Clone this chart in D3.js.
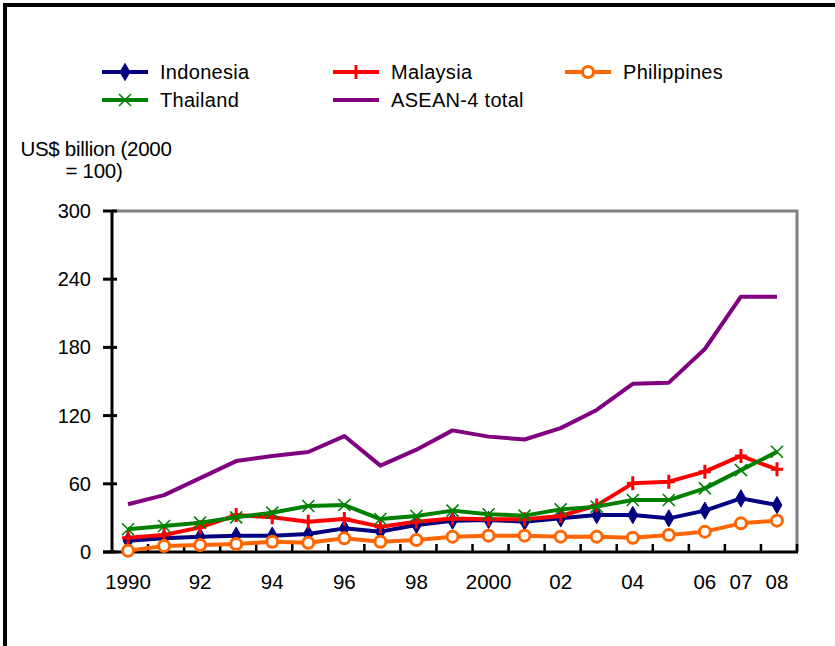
<!DOCTYPE html>
<html><head><meta charset="utf-8">
<script src="https://cdn.jsdelivr.net/npm/d3@7"></script>
<style>body{margin:0;background:#fff}svg{display:block}text{font-family:"Liberation Sans",Arial,sans-serif;fill:#000}</style>
</head><body><svg id="c" width="835" height="646"></svg>
<script>
const years = d3.range(1990, 2009);
const yearLabels = {1990:"1990",1992:"92",1994:"94",1996:"96",1998:"98",2000:"2000",2002:"02",2004:"04",2006:"06",2007:"07",2008:"08"};
const yTicks = [0, 60, 120, 180, 240, 300];
const indonesia   = [10, 12, 13.5, 14.4, 14.4, 15.8, 20.8, 17.9, 23.8, 27.5, 28.2, 26.7, 29.6, 32.5, 32.5, 29.6, 36.4, 47.2, 41.3];
const malaysia    = [12.6, 15, 21.7, 32.5, 30.5, 26.7, 29, 22.3, 26.7, 29.5, 28.8, 28.8, 31.7, 41, 60.4, 61.9, 70.7, 84.5, 72.7];
const philippines = [1.2, 5.3, 6.2, 7, 9, 8.2, 12, 9, 10.6, 13.5, 14.4, 14.4, 13.5, 13.5, 12.6, 15, 17.9, 25.2, 27.6];
const thailand    = [20, 22.9, 25.8, 30.5, 34.6, 40.5, 41.3, 29, 31.7, 36.4, 33.2, 32, 37.5, 39.9, 45.7, 45.7, 56, 72, 88.2];
const asean4      = [42, 50, 65, 80, 84.5, 88, 102, 76, 90, 107, 101.5, 99, 109, 125, 148, 149, 178.6, 224.6, 224.6];

const series = [
  {name:"Indonesia", values:indonesia, color:"#000080", marker:"diamond"},
  {name:"Malaysia", values:malaysia, color:"#FF0000", marker:"plus"},
  {name:"Philippines", values:philippines, color:"#FF6600", marker:"circle"},
  {name:"Thailand", values:thailand, color:"#008000", marker:"x"},
  {name:"ASEAN-4 total", values:asean4, color:"#800080", marker:"none"}
];

const svg = d3.select("#c");
const L = 112, R = 797, T = 211, B = 552;
const x = d3.scaleBand().domain(years).range([L, R]).padding(0);
const cx = d => x(d) + x.bandwidth()/2 - 2;
const y = d3.scaleLinear().domain([0, 300]).range([B, T]);

// outer border
svg.append("path").attr("d", `M5,${646+5}V5H${835+5}`).attr("fill","none").attr("stroke","#000").attr("stroke-width",4);

// gray plot frame
svg.append("path").attr("d", `M${L},${T}H${R}V${B}`).attr("fill","none").attr("stroke","#808080").attr("stroke-width",3);

// y axis
const yAxis = svg.append("g");
yAxis.append("line").attr("x1",L).attr("x2",L).attr("y1",T).attr("y2",B).attr("stroke","#000").attr("stroke-width",3);
yAxis.selectAll("line.t").data(yTicks).join("line").attr("class","t")
  .attr("x1",L-9).attr("x2",L+5).attr("y1",d=>y(d)).attr("y2",d=>y(d)).attr("stroke","#000").attr("stroke-width",3);
yAxis.selectAll("text").data(yTicks).join("text")
  .attr("x",91).attr("y",d=>y(d)).attr("dy","0.35em").attr("text-anchor","end").attr("font-size",20).text(d=>d);

// x axis
const xAxis = svg.append("g");
xAxis.append("line").attr("x1",L-9).attr("x2",R+1).attr("y1",B).attr("y2",B).attr("stroke","#000").attr("stroke-width",3);
xAxis.selectAll("line.t").data(years).join("line").attr("class","t")
  .attr("x1",d=>x(d)+x.bandwidth()).attr("x2",d=>x(d)+x.bandwidth())
  .attr("y1",B).attr("y2",B-8).attr("stroke","#000").attr("stroke-width",2.5);
xAxis.selectAll("text").data(years.filter(d=>yearLabels[d])).join("text")
  .attr("x",d=>cx(d)).attr("y",589).attr("text-anchor","middle").attr("font-size",20.5).text(d=>yearLabels[d]);

// y title
const yt = svg.append("text").attr("font-size",20.5).attr("text-anchor","middle").attr("letter-spacing","-0.3");
yt.append("tspan").attr("x",96).attr("y",156).text("US$ billion (2000");
yt.append("tspan").attr("x",94).attr("y",178).text("= 100)");

function drawMarker(g, type, color) {
  if (type === "diamond") {
    g.append("path").attr("d", d3.symbol(d3.symbolDiamond, 85)()).attr("fill", color).attr("stroke", color).attr("stroke-width",1);
  } else if (type === "plus") {
    g.append("path").attr("d","M-6,0H6M0,-7V7").attr("stroke",color).attr("stroke-width",3).attr("fill","none");
  } else if (type === "circle") {
    g.append("circle").attr("r",5.5).attr("fill","#fff").attr("stroke",color).attr("stroke-width",3);
  } else if (type === "x") {
    g.append("path").attr("d","M-6,-6L6,6M-6,6L6,-6").attr("stroke",color).attr("stroke-width",1.6).attr("fill","none");
  }
}

const line = d3.line().x((d,i)=>cx(years[i])).y(d=>y(d));
series.forEach(s => {
  const g = svg.append("g");
  g.append("path").attr("d", line(s.values)).attr("fill","none").attr("stroke", s.color)
    .attr("stroke-width", 4).attr("stroke-linejoin","round");
  s.values.forEach((v,i) => {
    if (s.marker !== "none") drawMarker(g.append("g").attr("transform",`translate(${cx(years[i])},${y(v)})`), s.marker, s.color);
  });
});

// legend
const legendPos = [
  {x:102, y:72}, {x:333, y:72}, {x:565, y:72}, {x:102, y:100}, {x:333, y:100}
];
series.forEach((s,i) => {
  const p = legendPos[i];
  const g = svg.append("g").attr("transform",`translate(${p.x},${p.y})`);
  g.append("line").attr("x1",0).attr("x2",46).attr("y1",0).attr("y2",0).attr("stroke",s.color).attr("stroke-width",4);
  if (s.marker !== "none") drawMarker(g.append("g").attr("transform","translate(23,0)"), s.marker, s.color);
  g.append("text").attr("x",58).attr("y",0).attr("dy","0.35em").attr("font-size",20).attr("letter-spacing","0.3").text(s.name);
});
</script></body></html>
